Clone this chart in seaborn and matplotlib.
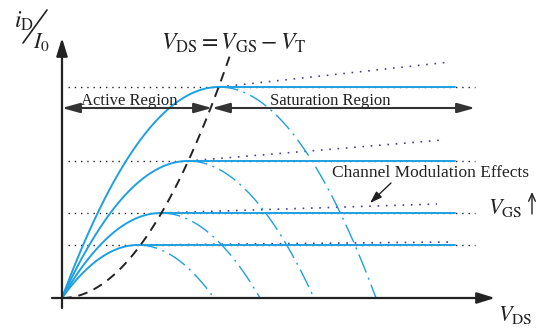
import numpy as np
import pandas as pd
import matplotlib
matplotlib.use("Agg")
import matplotlib.pyplot as plt
import seaborn as sns

# Square-law MOSFET output characteristics (normalised units)
v_ov = [0.76, 0.99, 1.26, 1.57]          # overdrive V_GS - V_T for each curve
i_sat = [0.53, 0.85, 1.37, 2.11]         # saturation current i_D / I_0
clm_end_v = [3.90, 3.75, 3.81, 3.88]     # end of channel-length-modulation lines
clm_end_i = [0.56, 0.94, 1.58, 2.36]
k_locus = 0.86                            # locus V_DS = V_GS - V_T : i = k V^2
v_locus_end = 1.69
v_flat_end = 3.93
v_ref_start, v_ref_end = 0.06, 4.13

sns.set_theme(style="white")
plt.rcParams["mathtext.fontset"] = "stix"
plt.rcParams["font.family"] = ["Liberation Serif", "DejaVu Serif"]

BLUE = "#1ea0e2"
PURPLE = "#4a3f9c"
DARK = "#222222"

fig = plt.figure(figsize=(5.5, 3.3), dpi=100)
ax = fig.add_axes([0, 0, 1, 1])
ax.set_xlim(-0.62, 4.88)
ax.set_ylim(-0.32, 2.98)
ax.axis("off")

# build curve tables
rows_tri, rows_dd, rows_flat = [], [], []
for n, (vo, isat) in enumerate(zip(v_ov, i_sat)):
    v = np.linspace(0, vo, 80)
    for a, b in zip(v, isat * (1 - (1 - v / vo) ** 2)):
        rows_tri.append((n, a, b))
    v2 = np.linspace(vo, 2 * vo, 80)
    for a, b in zip(v2, isat * (1 - (1 - v2 / vo) ** 2)):
        rows_dd.append((n, a, b))
    rows_flat += [(n, vo, isat), (n, v_flat_end, isat)]
tri = pd.DataFrame(rows_tri, columns=["curve", "v", "i"])
dd = pd.DataFrame(rows_dd, columns=["curve", "v", "i"])
flat = pd.DataFrame(rows_flat, columns=["curve", "v", "i"])

# reference dotted levels
for isat in i_sat:
    ax.plot([v_ref_start, v_ref_end], [isat, isat], color=DARK, lw=1.0,
            ls=(0, (1, 3.5)), zorder=1)
# channel length modulation
for vo, isat, ve, ie in zip(v_ov, i_sat, clm_end_v, clm_end_i):
    ax.plot([vo, ve], [isat, ie], color=PURPLE, lw=1.2, ls=(0, (1, 4)), zorder=2)

pal = [BLUE] * len(v_ov)
sns.lineplot(data=tri, x="v", y="i", hue="curve", palette=pal, lw=1.4,
             legend=False, ax=ax, zorder=3, estimator=None, sort=False)
sns.lineplot(data=flat, x="v", y="i", hue="curve", palette=pal, lw=1.4,
             legend=False, ax=ax, zorder=3, estimator=None, sort=False)
sns.lineplot(data=dd, x="v", y="i", hue="curve", palette=pal, lw=1.0,
             legend=False, ax=ax, zorder=3, estimator=None, sort=False,
             dashes=False)
for line in ax.get_lines()[-len(v_ov):]:
    line.set_linestyle((0, (14, 4, 1.5, 4)))

vl = np.linspace(0, v_locus_end, 80)
ax.plot(vl, k_locus * vl ** 2, color=DARK, lw=1.4, ls=(0, (5, 3.5)), zorder=4)
ax.set_xlabel("")
ax.set_ylabel("")

# axes with arrows
arrow_kw = dict(arrowstyle="-|>,head_length=0.9,head_width=0.28", color=DARK,
                lw=1.6, shrinkA=0, shrinkB=0)
ax.annotate("", xy=(4.33, 0), xytext=(-0.10, 0), arrowprops=arrow_kw)
ax.annotate("", xy=(0, 2.60), xytext=(0, -0.10), arrowprops=arrow_kw)

# region arrows
reg_kw = dict(arrowstyle="-|>,head_length=0.9,head_width=0.25", color="#333333",
              lw=1.5, shrinkA=0, shrinkB=0)
y_reg = 1.90
v_mid = 1.50
ax.annotate("", xy=(0, y_reg), xytext=(v_mid * 0.55, y_reg), arrowprops=reg_kw)
ax.annotate("", xy=(v_mid, y_reg), xytext=(v_mid * 0.45, y_reg), arrowprops=reg_kw)
ax.annotate("", xy=(v_mid, y_reg), xytext=(2.8, y_reg), arrowprops=reg_kw)
ax.annotate("", xy=(v_ref_end, y_reg), xytext=(2.7, y_reg), arrowprops=reg_kw)

txt_col = "#222222"
ax.text(0.67, 1.97, "Active Region", fontsize=12, ha="center", va="center", color=txt_col)
ax.text(2.68, 1.97, "Saturation Region", fontsize=12, ha="center", va="center", color=txt_col)
ax.text(3.69, 1.25, "Channel Modulation Effects", fontsize=12.5, ha="center",
        va="center", color=txt_col)
ax.annotate("", xy=(3.08, 0.95), xytext=(3.29, 1.15),
            arrowprops=dict(arrowstyle="-|>,head_length=0.6,head_width=0.2",
                            color=DARK, lw=1.0, shrinkA=0, shrinkB=0))

ax.text(1.72, 2.55, r"$V_{\rm DS}=V_{\rm GS}-V_{\rm T}$", fontsize=17,
        ha="center", va="center", color=txt_col)
ax.text(4.26, 0.90, r"$V_{\rm GS}$", fontsize=16, ha="left", va="center", color=txt_col)
ax.annotate("", xy=(4.70, 1.06), xytext=(4.70, 0.84),
            arrowprops=dict(arrowstyle="->,head_length=0.45,head_width=0.2",
                            color=DARK, lw=1.0, shrinkA=0, shrinkB=0))
ax.text(4.36, -0.17, r"$V_{\rm DS}$", fontsize=16, ha="left", va="center", color=txt_col)

ax.text(-0.48, 2.77, r"$i_{\rm D}$", fontsize=17, ha="left", va="center", color=txt_col)
ax.plot([-0.39, -0.15], [2.55, 2.88], color=DARK, lw=1.2)
ax.text(-0.29, 2.56, r"$I_0$", fontsize=16, ha="left", va="center", color=txt_col)

fig.savefig("out.png", dpi=100)
